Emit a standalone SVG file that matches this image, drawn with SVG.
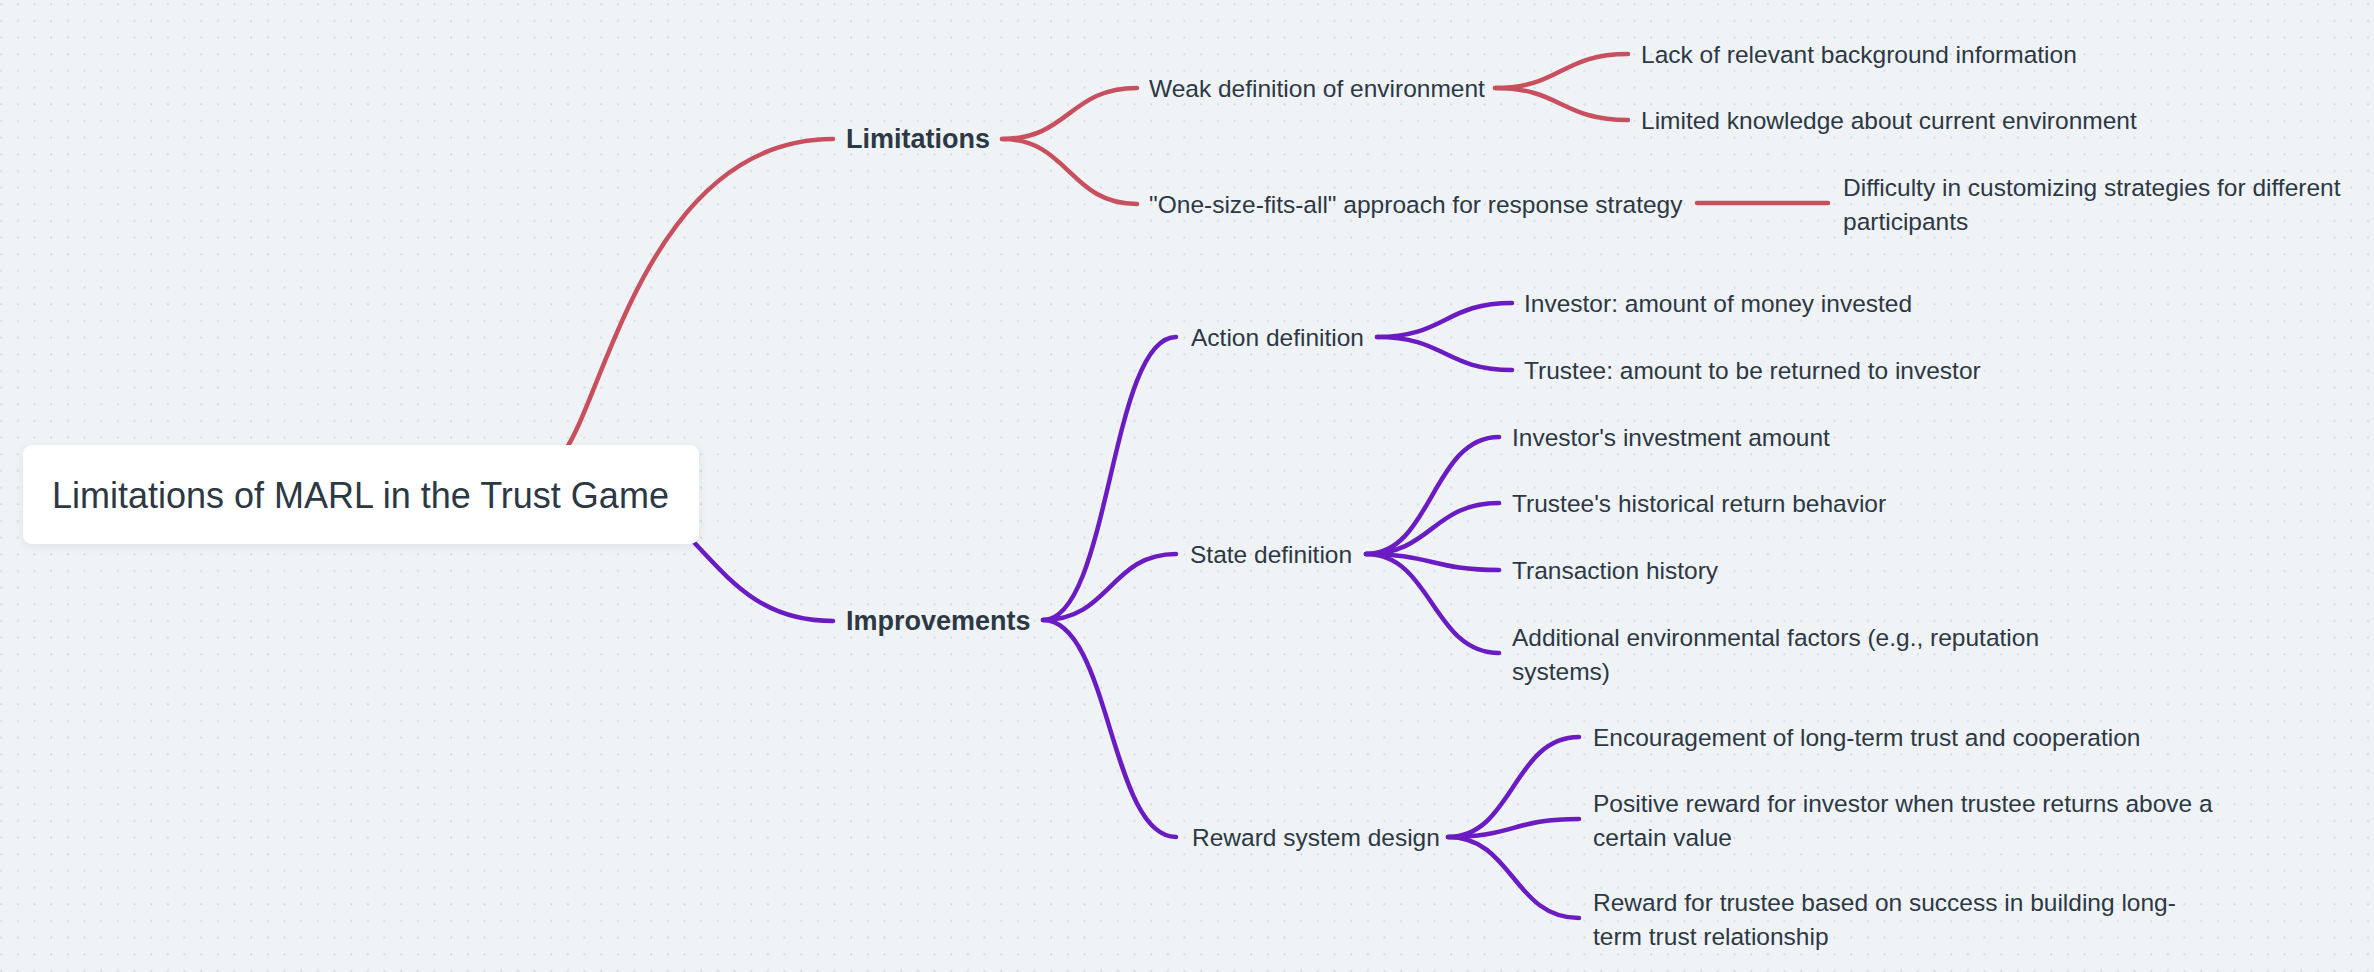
<svg xmlns="http://www.w3.org/2000/svg" width="2374" height="972" viewBox="0 0 2374 972">
<defs>
<pattern id="dots" x="0" y="0" width="16.667" height="16.667" patternUnits="userSpaceOnUse">
<circle cx="1.2" cy="4.3" r="1" fill="#d0d6dd"/>
</pattern>
<filter id="shadow" x="-5%" y="-20%" width="110%" height="140%">
<feDropShadow dx="0" dy="2" stdDeviation="4" flood-color="#1c2a38" flood-opacity="0.07"/>
</filter>
<style>
text{font-family:"Liberation Sans",Arial,sans-serif;fill:#2c3844;}
.t{font-size:24.5px;}
.b{font-size:27px;font-weight:bold;}
.root{font-size:36px;}
.red{fill:none;stroke:#c8505e;stroke-width:4.5;stroke-linecap:round;}
.pur{fill:none;stroke:#6a1cc2;stroke-width:4.5;stroke-linecap:round;}
</style>
</defs>
<rect width="2374" height="972" fill="#eff3f6"/>
<rect width="2374" height="972" fill="url(#dots)"/>

<g id="connectors">
<path class="red" d="M564,452 C605,395 650,139 833,139"/>
<path class="pur" d="M688,536 C730,580 760,621 833,621"/>
<path class="red" d="M1002,139 C1069,139 1069,88 1137,88"/>
<path class="red" d="M1002,139 C1069,139 1069,204 1137,204"/>
<path class="red" d="M1495,88 C1561,88 1561,54 1628,54"/>
<path class="red" d="M1495,88 C1561,88 1561,120 1628,120"/>
<path class="red" d="M1697,203 L1828,203"/>
<path class="pur" d="M1043,620 C1110,620 1110,337 1176,337"/>
<path class="pur" d="M1043,620 C1110,620 1110,554 1176,554"/>
<path class="pur" d="M1043,620 C1110,620 1110,837 1176,837"/>
<path class="pur" d="M1377,337 C1445,337 1445,303 1512,303"/>
<path class="pur" d="M1377,337 C1445,337 1445,370 1512,370"/>
<path class="pur" d="M1366,554 C1432,554 1432,437 1499,437"/>
<path class="pur" d="M1366,554 C1432,554 1432,503 1499,503"/>
<path class="pur" d="M1366,554 C1432,554 1432,570 1499,570"/>
<path class="pur" d="M1366,554 C1432,554 1432,653 1499,653"/>
<path class="pur" d="M1448,837 C1513,837 1513,737 1579,737"/>
<path class="pur" d="M1448,837 C1513,837 1513,819 1579,819"/>
<path class="pur" d="M1448,837 C1513,837 1513,918 1579,918"/>
</g>

<g id="root">
<rect x="23" y="445" width="676" height="99" rx="9" fill="#ffffff" filter="url(#shadow)"/>
<text class="root" x="52" y="508">Limitations of MARL in the Trust Game</text>
</g>

<g id="limitations"><text class="b" x="846" y="148">Limitations</text></g>
<g id="weak-definition"><text class="t" x="1149" y="96.5">Weak definition of environment</text></g>
<g id="lack-background"><text class="t" x="1641" y="62.5">Lack of relevant background information</text></g>
<g id="limited-knowledge"><text class="t" x="1641" y="128.5">Limited knowledge about current environment</text></g>
<g id="one-size"><text class="t" x="1149" y="212.5">"One-size-fits-all" approach for response strategy</text></g>
<g id="difficulty"><text class="t" x="1843" y="195.5">Difficulty in customizing strategies for different</text><text class="t" x="1843" y="229.5">participants</text></g>

<g id="improvements"><text class="b" x="846" y="630">Improvements</text></g>
<g id="action-definition"><text class="t" x="1191" y="345.5">Action definition</text></g>
<g id="investor-action"><text class="t" x="1524" y="311.5">Investor: amount of money invested</text></g>
<g id="trustee-action"><text class="t" x="1524" y="378.5">Trustee: amount to be returned to investor</text></g>
<g id="state-definition"><text class="t" x="1190" y="562.5">State definition</text></g>
<g id="investor-state"><text class="t" x="1512" y="445.5">Investor's investment amount</text></g>
<g id="trustee-state"><text class="t" x="1512" y="511.5">Trustee's historical return behavior</text></g>
<g id="transaction-history"><text class="t" x="1512" y="578.5">Transaction history</text></g>
<g id="additional-factors"><text class="t" x="1512" y="645.5">Additional environmental factors (e.g., reputation</text><text class="t" x="1512" y="679.5">systems)</text></g>
<g id="reward-design"><text class="t" x="1192" y="845.5">Reward system design</text></g>
<g id="encouragement"><text class="t" x="1593" y="745.5">Encouragement of long-term trust and cooperation</text></g>
<g id="positive-reward"><text class="t" x="1593" y="811.5">Positive reward for investor when trustee returns above a</text><text class="t" x="1593" y="845.5">certain value</text></g>
<g id="trustee-reward"><text class="t" x="1593" y="910.5">Reward for trustee based on success in building long-</text><text class="t" x="1593" y="944.5">term trust relationship</text></g>
</svg>
